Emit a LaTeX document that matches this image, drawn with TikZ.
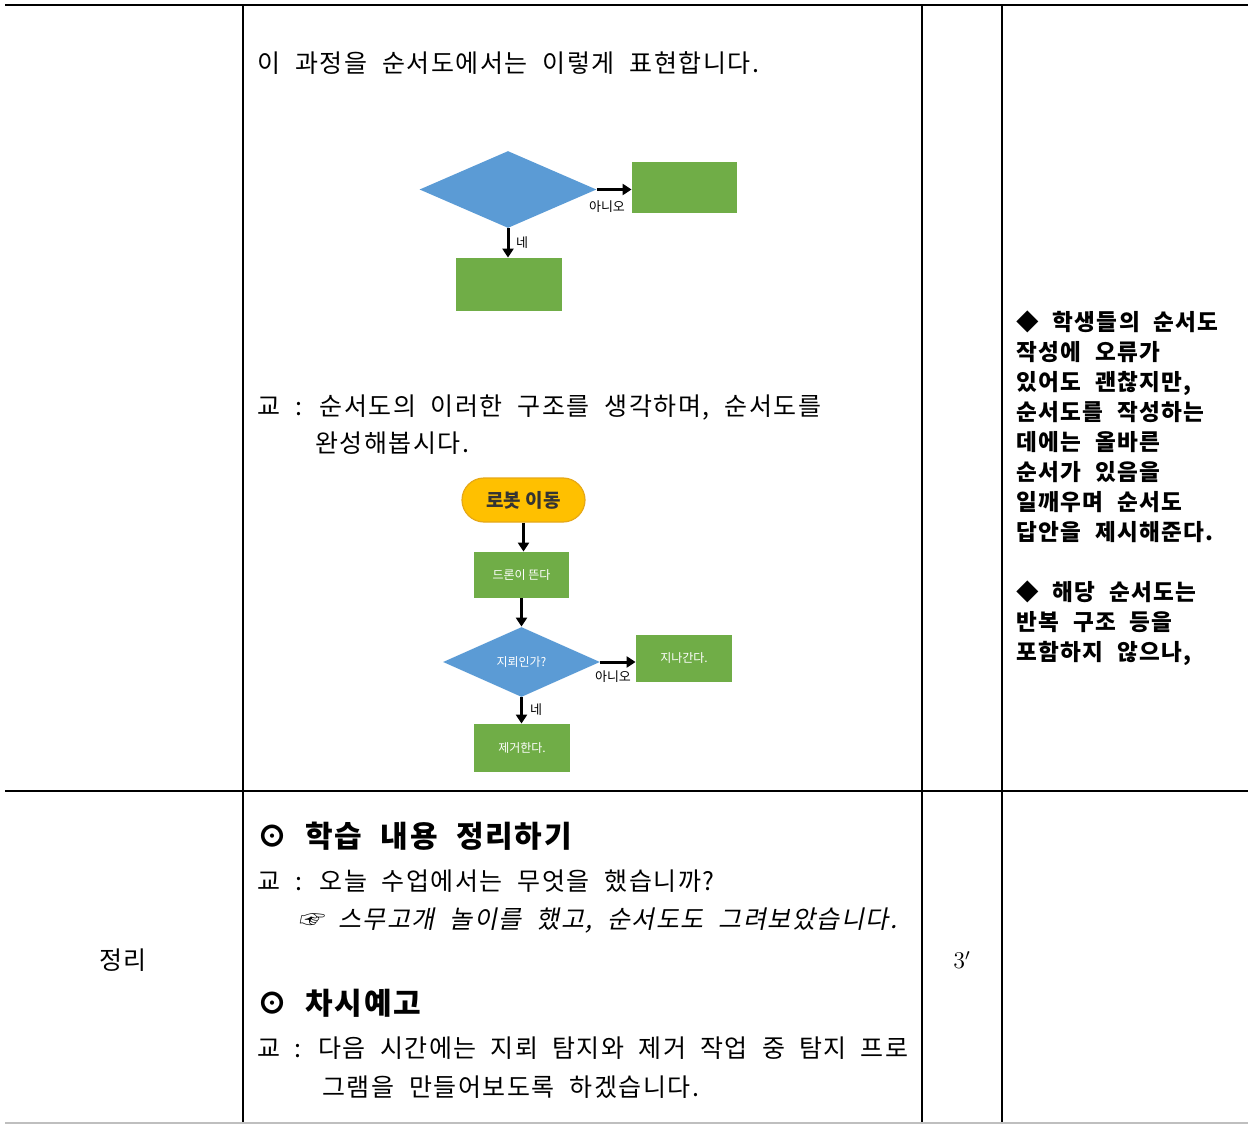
\documentclass[tikz,border=0pt]{standalone}
\usepackage{fontspec}
\setmainfont{Noto Sans CJK KR}[LetterSpace=6,WordSpace=2.1]
\newfontfamily\krit{Noto Sans CJK KR}[FakeSlant=0.2,LetterSpace=6,WordSpace=2.1]
\newfontfamily\krplain{Noto Sans CJK KR}
\usetikzlibrary{arrows.meta,shapes.geometric}
\definecolor{fblue}{HTML}{5B9BD5}
\definecolor{fgreen}{HTML}{70AD47}
\definecolor{fyellow}{HTML}{FFC000}
\definecolor{forange}{HTML}{E6A817}
\tikzset{
  rule/.style={line width=0.9pt},
  arr/.style={line width=1.5pt,-{Triangle[length=4.5pt,width=5.5pt]}},
  gbox/.style={rectangle,fill=fgreen,inner sep=0pt,text=white,font=\krplain\fontsize{6}{7}\selectfont},
  bdia/.style={diamond,fill=fblue,inner sep=0pt,text=white,font=\krplain\fontsize{6}{7}\selectfont},
  lbl/.style={font=\krplain\fontsize{6.5}{7.5}\selectfont,inner sep=0pt},
  body/.style={anchor=base west,inner sep=0pt,font=\fontsize{12.5}{14}\selectfont},
  note/.style={anchor=base west,inner sep=0pt,font=\fontsize{11.3}{13}\selectfont\bfseries},
  head/.style={anchor=base west,inner sep=0pt,font=\fontsize{15}{18}\selectfont\bfseries}
}
\begin{document}
\begin{tikzpicture}[x=0.5pt,y=-0.5pt]
\useasboundingbox (0,0) rectangle (1250,1124);
% table rules
\draw[line width=1.2pt] (5,5) -- (1248,5);
\draw[rule] (243,5) -- (243,1124);
\draw[rule] (922,5) -- (922,1124);
\draw[rule] (1002,5) -- (1002,1124);
\draw[rule] (5,791) -- (1248,791);
\draw[line width=1pt,gray!50] (5,1123) -- (1248,1123);

% upper middle cell
\node[body] (t1) at (257,72) {이 과정을 순서도에서는 이렇게 표현합니다.};

% flowchart 1
\node[bdia,minimum width=88.5pt,minimum height=38.5pt,aspect=2.3] (d1) at (508,189.5) {};
\node[gbox,minimum width=52.5pt,minimum height=25.5pt] (r1) at (684.5,187.5) {};
\node[gbox,minimum width=53pt,minimum height=26.5pt] (r2) at (509,284.5) {};
\draw[arr] (d1.east) -- (d1.east -| r1.west);
\draw[arr] (d1.south) -- (d1.south |- r2.north);
\node[lbl] (l1) at (607,207) {아니오};
\node[lbl] (l2) at (522,243) {네};

\node[body] (t2) at (257,415) {교 : 순서도의 이러한 구조를 생각하며, 순서도를};
\node[body] (t3) at (315,452) {완성해봅시다.};

% flowchart 2
\node[rectangle,rounded corners=11pt,fill=fyellow,draw=forange,line width=0.6pt,minimum width=61.5pt,minimum height=22pt,inner sep=0pt,font=\krplain\fontsize{9.5}{11}\selectfont\bfseries,text=black!80] (s) at (523.5,500) {로봇 이동};
\node[gbox,minimum width=47.5pt,minimum height=23pt] (a) at (521.5,575) {드론이 뜬다};
\node[bdia,minimum width=78.5pt,minimum height=35pt,aspect=2.24] (d2) at (521.5,662) {지뢰인가?};
\node[gbox,minimum width=48pt,minimum height=23.5pt] (b) at (684,658.5) {지나간다.};
\node[gbox,minimum width=48pt,minimum height=24pt] (c) at (522,748) {제거한다.};
\draw[arr] (s.south) -- (s.south |- a.north);
\draw[arr] (a.south) -- (a.south |- d2.north);
\draw[arr] (d2.east) -- (d2.east -| b.west);
\draw[arr] (d2.south) -- (d2.south |- c.north);
\node[lbl] (l3) at (613,677) {아니오};
\node[lbl] (l4) at (536,710) {네};

% right column notes
\node[note] (n1) at (1016,330) {◆ 학생들의 순서도};
\node[note] (n2) at (1016,360) {작성에 오류가};
\node[note] (n3) at (1016,390) {있어도 괜찮지만,};
\node[note] (n4) at (1016,420) {순서도를 작성하는};
\node[note] (n5) at (1016,450) {데에는 올바른};
\node[note] (n6) at (1016,480) {순서가 있음을};
\node[note] (n7) at (1016,510) {일깨우며 순서도};
\node[note] (n8) at (1016,540) {답안을 제시해준다.};
\node[note] (n9) at (1016,600) {◆ 해당 순서도는};
\node[note] (n10) at (1016,630) {반복 구조 등을};
\node[note] (n11) at (1016,660) {포함하지 않으나,};

% lower row
\node[inner sep=0pt,font=\fontsize{12.5}{14}\selectfont] (p) at (123,960) {정리};
\node[head] (h1) at (257,847) {⊙ 학습 내용 정리하기};
\node[body] (q1) at (257,890) {교 : 오늘 수업에서는 무엇을 했습니까?};
\node[body] (q2) at (298,928) {\krit ☞ 스무고개 놀이를 했고, 순서도도 그려보았습니다.};
\node[inner sep=0pt,font=\fontsize{12}{14}\selectfont] (tm) at (962,960) {$3'$};
\node[head] (h2) at (257,1014) {⊙ 차시예고};
\node[body] (q3) at (257,1057) {\makebox[325.5pt][s]{교 : 다음 시간에는 지뢰 탐지와 제거 작업 중 탐지 프로}};
\node[body] (q4) at (322,1096) {그램을 만들어보도록 하겠습니다.};
\end{tikzpicture}
\end{document}
